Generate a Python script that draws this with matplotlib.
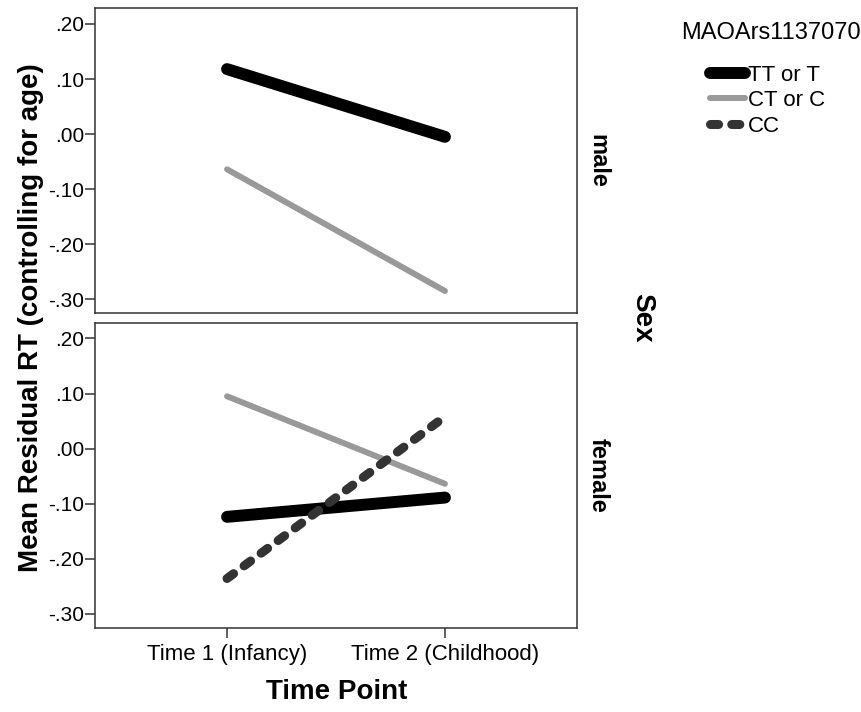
import matplotlib.pyplot as plt
from matplotlib.lines import Line2D

plt.rcParams['font.family'] = ['Liberation Sans', 'DejaVu Sans']

time_labels = ['Time 1 (Infancy)', 'Time 2 (Childhood)']
groups = ['TT or T', 'CT or C', 'CC']

# mean residual RT per sex panel
male_tt = [0.118, -0.005]
male_ct = [-0.064, -0.285]
female_tt = [-0.124, -0.089]
female_ct = [0.095, -0.064]
female_cc = [-0.236, 0.058]

col_tt, col_ct, col_cc = '#000000', '#999999', '#333333'
lw_tt, lw_ct, lw_cc = 8.6, 4.3, 6.5

W, H = 862, 712
fig = plt.figure(figsize=(W / 100, H / 100), dpi=100)
ax_top = fig.add_axes([95 / W, (H - 313) / H, 482 / W, 305 / H])
ax_bot = fig.add_axes([95 / W, (H - 627.5) / H, 482 / W, 305 / H])

x = [0, 1]


def style(ax, show_x):
    ax.set_xlim(-0.606, 1.606)
    ax.set_ylim(-0.325, 0.229)
    ax.set_yticks([0.2, 0.1, 0.0, -0.1, -0.2, -0.3])
    ax.set_yticklabels(['.20', '.10', '.00', '-.10', '-.20', '-.30'], fontsize=15)
    for s in ax.spines.values():
        s.set_linewidth(1.1)
        s.set_color('#333333')
    ax.tick_params(axis='y', length=7, width=1.1, color='#333333', pad=1)
    if show_x:
        ax.set_xticks(x)
        ax.set_xticklabels(time_labels, fontsize=16)
        ax.tick_params(axis='x', length=7, width=1.1, color='#333333', pad=5)
    else:
        ax.set_xticks([])


ax_top.plot(x, male_tt, color=col_tt, lw=lw_tt, solid_capstyle='round')
ax_top.plot(x, male_ct, color=col_ct, lw=lw_ct, solid_capstyle='round')

ax_bot.plot(x, female_tt, color=col_tt, lw=lw_tt, solid_capstyle='round')
ax_bot.plot(x, female_ct, color=col_ct, lw=lw_ct, solid_capstyle='round')
ax_bot.plot(x, female_cc, color=col_cc, lw=lw_cc, dashes=(0.9, 1.45),
            dash_capstyle='round')

style(ax_top, False)
style(ax_bot, True)

ax_top.text(1.02, 0.5, 'male', transform=ax_top.transAxes, rotation=-90,
            ha='left', va='center', fontsize=17, fontweight='bold')
ax_bot.text(1.02, 0.5, 'female', transform=ax_bot.transAxes, rotation=-90,
            ha='left', va='center', fontsize=17, fontweight='bold')

fig.text(642 / W, 1 - 318 / H, 'Sex', rotation=-90, ha='center', va='center',
         fontsize=20, fontweight='bold')
fig.text(31 / W, 1 - 318 / H, 'Mean Residual RT (controlling for age)',
         rotation=90, ha='center', va='center', fontsize=20, fontweight='bold')
fig.text(337 / W, 1 - 692 / H, 'Time Point', ha='center', va='center',
         fontsize=20, fontweight='bold')

# legend title drawn on its own so the gap above the entries matches
fig.text(771 / W, 1 - 33 / H, 'MAOArs1137070', ha='center', va='center',
         fontsize=17)
handles = [
    Line2D([], [], color=col_tt, lw=lw_tt, solid_capstyle='round'),
    Line2D([], [], color=col_ct, lw=lw_ct, solid_capstyle='round'),
    Line2D([], [], color=col_cc, lw=lw_cc, dashes=(0.9, 1.45), dash_capstyle='round'),
]
leg = fig.legend(handles, groups, loc='upper left',
                 bbox_to_anchor=(692 / W, 1 - 47 / H), frameon=False,
                 fontsize=16, handlelength=1.6,
                 handletextpad=0.1, labelspacing=0.2, borderpad=0.3)

fig.savefig('out.png', dpi=100)
